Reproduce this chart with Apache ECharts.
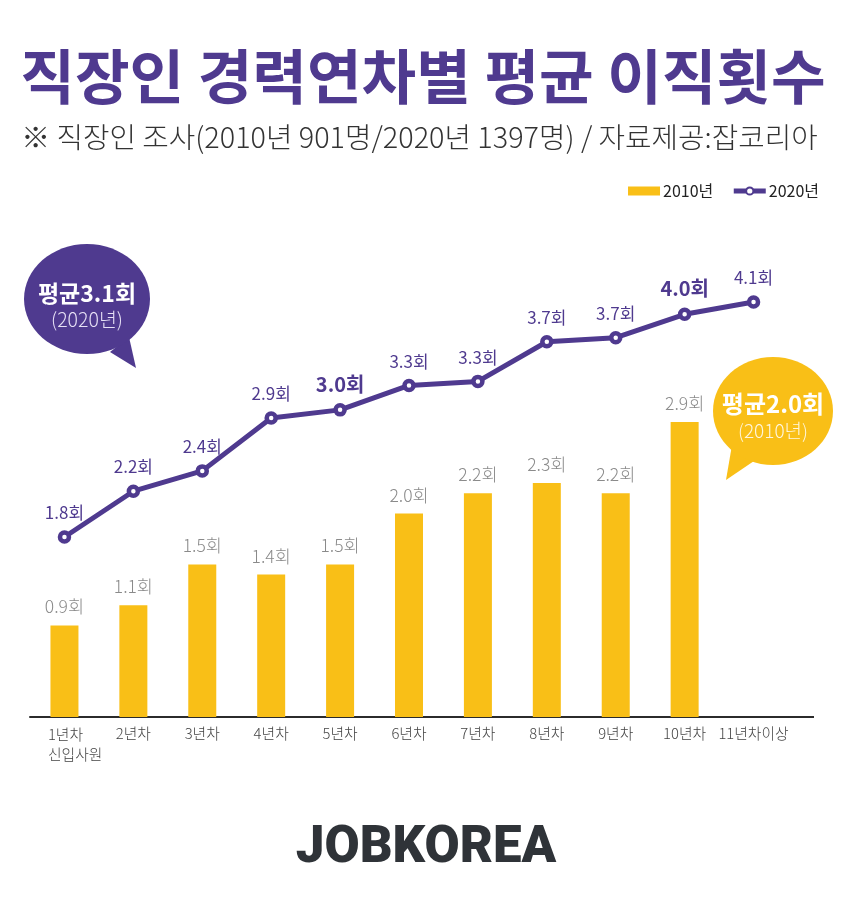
<!DOCTYPE html>
<html><head><meta charset="utf-8">
<style>html,body{margin:0;padding:0;background:#fff}#c{width:850px;height:898px}</style>
<script src="https://cdn.jsdelivr.net/npm/echarts@6/dist/echarts.min.js"></script>
</head><body><div id="c"></div>
<script>
const categories = ['1년차\n신입사원','2년차','3년차','4년차','5년차','6년차','7년차','8년차','9년차','10년차','11년차이상'];
const values2010 = [0.9,1.1,1.5,1.4,1.5,2.0,2.2,2.3,2.2,2.9,null];
const values2020 = [1.77,2.22,2.42,2.94,3.02,3.26,3.30,3.69,3.73,3.96,4.08];
const labels2010 = ['0.9회','1.1회','1.5회','1.4회','1.5회','2.0회','2.2회','2.3회','2.2회','2.9회',''];
const labels2020 = ['1.8회','2.2회','2.4회','2.9회','3.0회','3.3회','3.3회','3.7회','3.7회','4.0회','4.1회'];
const boldLabels2020 = [4, 9];
const PURPLE = '#4F3A8F', YELLOW = '#F9BF17';
const KR = '"Noto Sans CJK KR"';
const chart = echarts.init(document.getElementById('c'), null, {renderer:'canvas'});
chart.setOption({
  backgroundColor:'#fff',
  animation:false,
  textStyle:{fontFamily:KR},
  title:[
    {text:'직장인 경력연차별 평균 이직횟수',left:418,top:31,textAlign:'center',
     textStyle:{fontFamily:KR,fontSize:59.4,fontWeight:700,color:PURPLE,lineHeight:80}},
    {text:'※ 직장인 조사(2010년 901명/2020년 1397명) / 자료제공:잡코리아',left:414.5,top:113,textAlign:'center',
     textStyle:{fontFamily:KR,fontSize:28.8,fontWeight:300,color:'#333',lineHeight:38}}
  ],
  legend:{
    right:26,top:178,itemWidth:32,itemHeight:9,itemGap:18,selectedMode:false,
    textStyle:{fontFamily:KR,fontSize:16,color:'#222',padding:[0,0,0,-2]},
    lineStyle:{width:5},
    data:[{name:'2010년',icon:'rect'},{name:'2020년'}]
  },
  grid:{left:30,right:62,top:208.5,bottom:181},
  xAxis:{
    type:'category',data:categories,
    axisLine:{lineStyle:{color:'#2b2b2b',width:2}},
    axisTick:{show:false},
    axisLabel:{
      interval:0,margin:7,color:'#444',fontSize:14.8,fontWeight:300,lineHeight:19,
      formatter:(v,i)=> i===0 ? v.split('\n').map(s=>'{a|'+s+'}').join('\n') : v,
      rich:{a:{width:33,align:'left',color:'#444',fontSize:14.8,fontWeight:300,lineHeight:20}}
    }
  },
  yAxis:{type:'value',min:0,max:5,show:false},
  series:[
    {name:'2010년',type:'bar',data:values2010,barWidth:28,
     itemStyle:{color:YELLOW},
     label:{show:true,position:'top',distance:10,color:'#8a8a8a',fontSize:17.5,fontWeight:300,
       formatter:p=>labels2010[p.dataIndex]}},
    {name:'2020년',type:'line',data:values2020.map((v,i)=>boldLabels2020.includes(i)
        ? {value:v,label:{fontWeight:700,fontSize:20}} : v),
     lineStyle:{color:PURPLE,width:5},
     itemStyle:{color:'#fff',borderColor:PURPLE,borderWidth:4.5},
     symbol:'circle',symbolSize:9,
     label:{show:true,position:'top',distance:9,color:PURPLE,fontSize:17,fontWeight:400,
       formatter:p=>labels2020[p.dataIndex]}}
  ],
  graphic:[
    {type:'rect',shape:{x:788,y:716,width:26,height:2},style:{fill:'#2b2b2b'}},
    {type:'polygon',shape:{points:[[110,352],[136,368],[129,337]]},style:{fill:PURPLE}},
    {type:'ellipse',shape:{cx:87,cy:299,rx:63,ry:55},style:{fill:PURPLE}},
    {type:'text',x:87,y:293,style:{text:'평균3.1회',fill:'#fff',fontFamily:KR,fontSize:23,fontWeight:700,align:'center',verticalAlign:'middle'}},
    {type:'text',x:87,y:320,style:{text:'(2020년)',fill:'#e6e0f5',fontFamily:KR,fontSize:19.5,fontWeight:300,align:'center',verticalAlign:'middle'}},
    {type:'polygon',shape:{points:[[732,445],[726,480],[754,461]]},style:{fill:YELLOW}},
    {type:'ellipse',shape:{cx:773,cy:411,rx:60,ry:54},style:{fill:YELLOW}},
    {type:'text',x:773,y:404,style:{text:'평균2.0회',fill:'#fff',fontFamily:KR,fontSize:24,fontWeight:700,align:'center',verticalAlign:'middle'}},
    {type:'text',x:773,y:431,style:{text:'(2010년)',fill:'#fff6dc',fontFamily:KR,fontSize:19,fontWeight:300,align:'center',verticalAlign:'middle'}},
    {type:'text',x:426,y:849,style:{text:'JOBKOREA',fill:'#2f3338',fontFamily:'Roboto',fontSize:51,fontWeight:900,align:'center',verticalAlign:'middle'}}
  ]
});
</script></body></html>
